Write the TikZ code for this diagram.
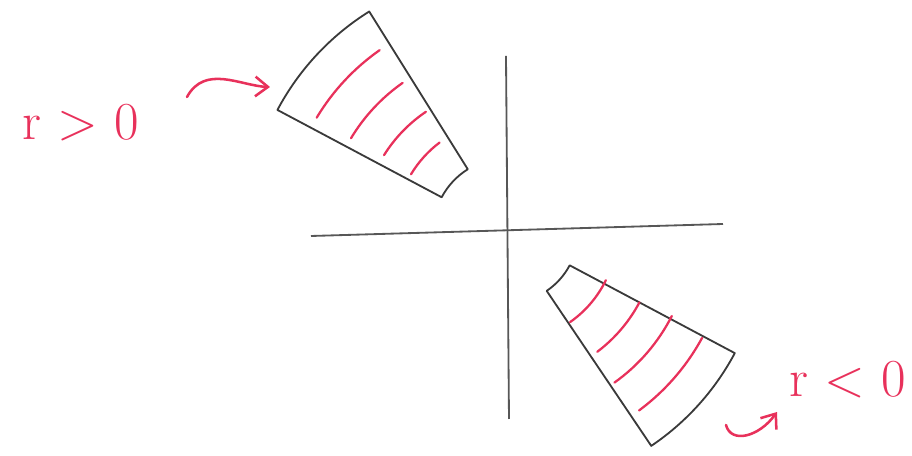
\documentclass[tikz,border=0pt]{standalone}
\usepackage{xcolor}
\usepackage{tikz}
\usetikzlibrary{positioning, arrows.meta}
\definecolor{penred}{HTML}{E8315B}
\definecolor{pencil}{HTML}{3A3A3A}

\begin{document}
\begin{tikzpicture}[x=0.25mm, y=0.25mm,
    axis/.style={pencil!85, line width=1.3pt},
    wedge/.style={pencil, line width=1.3pt, line join=round},
    wave/.style={penred, line width=1.6pt, line cap=round},
    hook/.style={penred, line width=1.8pt, line cap=round, -{Straight Barb[length=9pt, width=14pt]}},
    sign/.style={text=penred, inner sep=2pt, font=\fontsize{38}{46}\selectfont}]
  \useasboundingbox (-507,-224) rectangle (405,232);

  \coordinate (xl) at (-196,-4);
  \coordinate (xr) at (216,8);
  \coordinate (yt) at (-1,176);
  \coordinate (yb) at (2,-187);
  \draw[axis] (xl) -- (xr);
  \draw[axis] (yt) -- (yb);

  \draw[wedge] (152:74) -- (152:260) arc[start angle=152, end angle=122, radius=260]
    -- (122:74) arc[start angle=122, end angle=152, radius=74] -- cycle;
  \draw[wedge] (-28:71) -- (-28:258) arc[start angle=-28, end angle=-56, radius=258]
    -- (-56:71) arc[start angle=-56, end angle=-28, radius=71] -- cycle;

  \foreach \r/\a/\b in {222/149/125, 182/149/125, 145/148/124, 112/149/127}
    \draw[wave] (\a:\r) arc[start angle=\a, end angle=\b, radius=\r];
  \foreach \r/\a/\b in {110/-55/-26, 150/-53/-28, 185/-54.5/-27, 222/-53.5/-28.5}
    \draw[wave] (\a:\r) arc[start angle=\a, end angle=\b, radius=\r];

  \node[sign] (rpos) at (-426,109) {r > 0};
  \node[sign] (rneg) at (341,-148) {r < 0};

  \coordinate (upstart) at (-320,135);
  \coordinate (uptip) at (-237,145);
  \coordinate (lowstart) at (219,-193);
  \coordinate (lowtip) at (270,-180);
  \draw[hook] (upstart) .. controls (-302,168) and (-266,146) .. (uptip);
  \draw[hook] (lowstart) .. controls (224,-212) and (252,-205) .. (lowtip);
\end{tikzpicture}
\end{document}
